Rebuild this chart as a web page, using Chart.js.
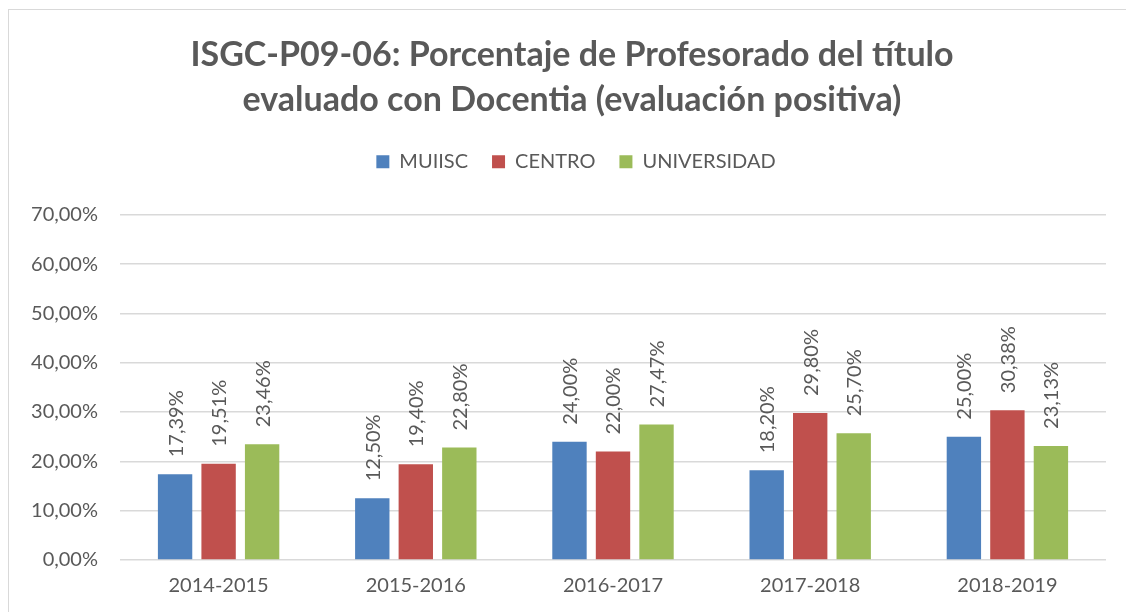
<!DOCTYPE html>
<html>
<head>
<meta charset="utf-8">
<script src="https://cdn.jsdelivr.net/npm/chart.js@4.4.0/dist/chart.umd.min.js"></script>
<style>
html,body{margin:0;padding:0;background:#fff;}
#wrap{position:absolute;left:0;top:0;width:1126px;height:612px;}
</style>
</head>
<body>
<div id="wrap"><canvas id="c" width="1126" height="612"></canvas></div>
<script>
const categories = ['2014-2015','2015-2016','2016-2017','2017-2018','2018-2019'];
const muiisc = [17.39, 12.50, 24.00, 18.20, 25.00];
const centro = [19.51, 19.40, 22.00, 29.80, 30.38];
const universidad = [23.46, 22.80, 27.47, 25.70, 23.13];
const seriesNames = ['MUIISC','CENTRO','UNIVERSIDAD'];
const seriesColors = ['#4F81BD','#C0504D','#9BBB59'];
const yTicksMax = 70;
const yStep = 10;
const titleLines = ['ISGC-P09-06: Porcentaje de Profesorado del título','evaluado con Docentia (evaluación positiva)'];

const TEXT = '#595959';
const FONT = 'Lato';

const fmt = v => v.toFixed(2).replace('.', ',') + '%';

const borderPlugin = {
  id: 'outerBorder',
  beforeDraw(chart) {
    const ctx = chart.ctx;
    ctx.save();
    ctx.fillStyle = '#fff';
    ctx.fillRect(0,0,chart.width,chart.height);
    ctx.strokeStyle = '#d9d9d9';
    ctx.lineWidth = 1;
    ctx.strokeRect(8.5, 9.5, 1400, 800);
    ctx.restore();
  }
};

const legendMargin = {
  id: 'legendMargin',
  beforeInit(chart) {
    const fit = chart.legend.fit;
    chart.legend.fit = function() {
      fit.bind(chart.legend)();
      this.height += 33;
    };
  },
  afterLayout(chart) {
    if (chart.titleBlock) { chart.titleBlock.left += 30; }
    if (chart.legend) { chart.legend.left += 38; }
  }
};

const valueLabels = {
  id: 'valueLabels',
  afterDatasetsDraw(chart) {
    const ctx = chart.ctx;
    ctx.save();
    ctx.fillStyle = TEXT;
    ctx.font = '20px ' + FONT;
    ctx.textAlign = 'left';
    ctx.textBaseline = 'middle';
    chart.data.datasets.forEach((ds, di) => {
      const meta = chart.getDatasetMeta(di);
      meta.data.forEach((el, i) => {
        ctx.save();
        ctx.translate(el.x, el.y - 17);
        ctx.rotate(-Math.PI / 2);
        ctx.fillText(fmt(ds.data[i]), 0, 1);
        ctx.restore();
      });
    });
    ctx.restore();
  }
};

new Chart(document.getElementById('c'), {
  type: 'bar',
  data: {
    labels: categories,
    datasets: [
      {label: seriesNames[0], data: muiisc, backgroundColor: seriesColors[0]},
      {label: seriesNames[1], data: centro, backgroundColor: seriesColors[1]},
      {label: seriesNames[2], data: universidad, backgroundColor: seriesColors[2]}
    ]
  },
  options: {
    responsive: false,
    animation: false,
    devicePixelRatio: 1,
    datasets: {bar: {categoryPercentage: 0.662, barPercentage: 0.79}},
    layout: {padding: {top: 10, left: 8, right: 20, bottom: 0}},
    plugins: {
      tooltip: {enabled: false},
      title: {
        display: true,
        text: titleLines,
        color: TEXT,
        font: {family: FONT, size: 34, weight: 'bold', lineHeight: 1.32},
        padding: {top: 23, bottom: 5}
      },
      legend: {
        position: 'top',
        labels: {
          color: TEXT,
          font: {family: FONT, size: 20},
          boxWidth: 13,
          boxHeight: 13,
          padding: 24
        }
      }
    },
    scales: {
      x: {
        grid: {display: false, drawTicks: false},
        border: {display: false},
        ticks: {color: TEXT, font: {family: FONT, size: 20}, padding: 14}
      },
      y: {
        min: 0,
        max: yTicksMax,
        afterFit(scale) { scale.width = 112; },
        grid: {color: '#d9d9d9', lineWidth: 1.5, drawTicks: false},
        border: {display: false},
        ticks: {stepSize: yStep, color: TEXT, font: {family: FONT, size: 20}, padding: 22, callback: v => fmt(v)}
      }
    }
  },
  plugins: [borderPlugin, legendMargin, valueLabels]
});
</script>
</body>
</html>
